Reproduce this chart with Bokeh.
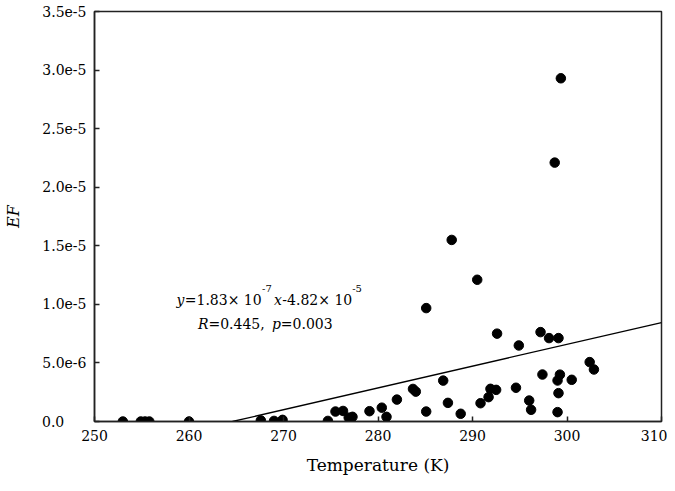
import numpy as np
from bokeh.plotting import figure
from bokeh.models import Label, FixedTicker, Range1d, ColumnDataSource
from bokeh.embed import file_html
from bokeh.resources import INLINE

# ---- data ----
temperature = [253.0, 254.9, 255.35, 255.8, 260.0,
               267.6, 269.0, 269.9, 274.7, 275.5, 276.3, 276.9, 277.3,
               279.1, 280.4, 280.9, 282.0, 283.7, 284.0, 285.1, 285.1,
               286.9, 287.4, 287.8, 288.75, 290.5, 290.85, 291.7, 291.9,
               292.5, 292.6, 294.6, 294.9, 296.0, 296.2, 297.2, 297.4,
               298.1, 298.7, 299.0, 299.0, 299.1, 299.1, 299.25, 299.35,
               300.5, 302.4, 302.85]
ef_micro = [0.0, 0.0, 0.0, 0.0, 0.0,
            0.09, 0.05, 0.14, 0.05, 0.85, 0.9, 0.33, 0.4,
            0.88, 1.18, 0.4, 1.87, 2.78, 2.55, 0.85, 9.68,
            3.49, 1.59, 15.5, 0.66, 12.1, 1.56, 2.08, 2.79,
            2.7, 7.5, 2.88, 6.49, 1.79, 1.0, 7.63, 4.01,
            7.12, 22.1, 3.5, 0.8, 2.42, 7.12, 4.0, 29.3,
            3.56, 5.07, 4.44]
ef = [v * 1e-6 for v in ef_micro]

# fitted line as drawn in the reference (start at zero, end at the right edge)
fit_x = [264.6, 310.0]
fit_y = [0.0, 8.45e-6]

x_ticks = [250, 260, 270, 280, 290, 300, 310]
y_ticks = [0.0, 5e-6, 1e-5, 1.5e-5, 2e-5, 2.5e-5, 3e-5, 3.5e-5]
y_tick_labels = ["0.0", "5.0e-6", "1.0e-5", "1.5e-5", "2.0e-5", "2.5e-5", "3.0e-5", "3.5e-5"]

x_label = "Temperature (K)"
y_label = "EF"

FONT = "DejaVu Serif"

# ---- figure ----
p = figure(width=667, height=483, output_backend="svg", toolbar_location=None,
           x_range=Range1d(250, 310), y_range=Range1d(0, 3.5e-5),
           min_border_left=89, min_border_right=6, min_border_top=11, min_border_bottom=62)
p.background_fill_color = "white"
p.border_fill_color = "white"
p.outline_line_color = "#222222"
p.outline_line_width = 1.5
p.xgrid.visible = False
p.ygrid.visible = False

for ax in (p.xaxis[0], p.yaxis[0]):
    ax.axis_line_color = "#222222"
    ax.axis_line_width = 1.5
    ax.major_tick_in = 5
    ax.major_tick_out = 0
    ax.major_tick_line_color = "#222222"
    ax.major_tick_line_width = 1.5
    ax.minor_tick_line_color = None
    ax.major_label_text_font = FONT
    ax.major_label_text_font_size = "14px"
    ax.major_label_text_color = "black"
    ax.major_label_standoff = 8
    ax.axis_label_text_font = FONT
    ax.axis_label_text_color = "black"

p.xaxis[0].ticker = FixedTicker(ticks=x_ticks)
p.yaxis[0].ticker = FixedTicker(ticks=y_ticks)
# labels in the reference are left-aligned; pad the short one to the common width
label_width = max(len(s) for s in y_tick_labels)
p.yaxis[0].major_label_overrides = {
    t: s + "\u00a0" * int(round((label_width - len(s)) * 1.6))
    for t, s in zip(y_ticks, y_tick_labels)
}

p.xaxis[0].axis_label = x_label
p.xaxis[0].axis_label_text_font_size = "17px"
p.xaxis[0].axis_label_text_font_style = "normal"
p.xaxis[0].axis_label_standoff = 11

p.yaxis[0].axis_label = y_label
p.yaxis[0].axis_label_text_font_size = "16px"
p.yaxis[0].axis_label_text_font_style = "italic"
p.yaxis[0].axis_label_standoff = 16

p.line(fit_x, fit_y, line_color="black", line_width=1.3)

src = ColumnDataSource(dict(t=temperature, ef=ef))
p.scatter("t", "ef", source=src, size=9.5, marker="circle",
          fill_color="black", line_color="black")

# ---- annotation text ----
def lab(x, y, text, size="14px", style="normal"):
    p.add_layout(Label(x=x, y=y, text=text, text_font=FONT, text_font_size=size,
                       text_font_style=style, text_color="black",
                       text_align="left", text_baseline="alphabetic"))

base1 = 10.39e-6
sup1 = 11.35e-6
base2 = 8.35e-6
lab(258.68, base1, "y", style="italic")
lab(259.55, base1, "=1.83\u00d7 10")
lab(267.73, sup1, "-7", size="10px")
lab(268.99, base1, "x", style="italic")
lab(269.88, base1, "-4.82\u00d7 10")
lab(277.27, sup1, "-5", size="10px")

lab(260.94, base2, "R", style="italic")
lab(262.06, base2, "=0.445,")
lab(268.78, base2, "p", style="italic")
lab(269.72, base2, "=0.003")

open("out.html", "w").write(file_html(p, INLINE))
